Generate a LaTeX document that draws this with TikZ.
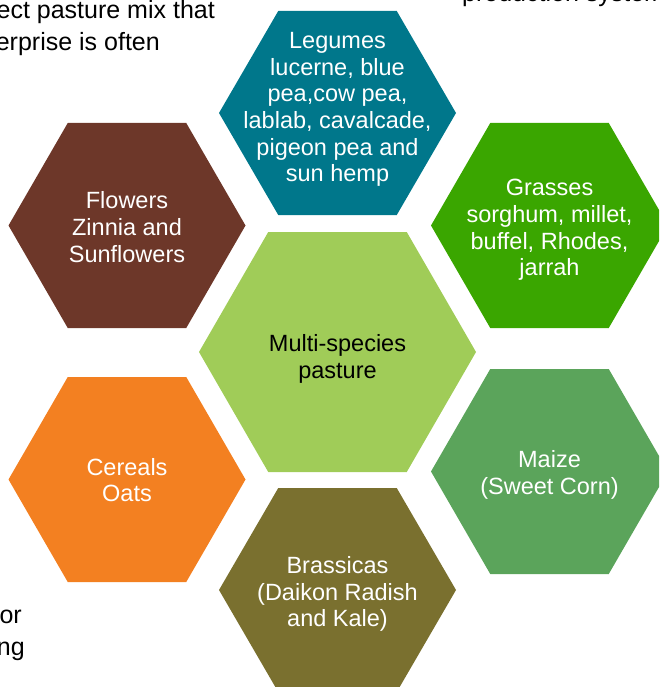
\documentclass[tikz,border=0pt]{standalone}
\usepackage{fontspec}
\setmainfont{Liberation Sans}
\definecolor{legcol}{HTML}{00778B}
\definecolor{flowcol}{HTML}{6D3729}
\definecolor{grasscol}{HTML}{3AA600}
\definecolor{centcol}{HTML}{A0CC58}
\definecolor{cercol}{HTML}{F38021}
\definecolor{maizecol}{HTML}{5BA45B}
\definecolor{brascol}{HTML}{7A702F}
\newcommand\hexa[4]{\fill[#1,shift={(#2)}] (-#3,0) -- (-#3/2,-#4) -- (#3/2,-#4) -- (#3,0) -- (#3/2,#4) -- (-#3/2,#4) -- cycle;}
\begin{document}
\begin{tikzpicture}[x=1pt,y=-1pt,
  hextext/.style={align=center,text=white,inner sep=0pt,font=\fontsize{23.5}{26.7}\selectfont},
  bgtext/.style={inner sep=0pt,text=black,font=\fontsize{25}{30}\selectfont}]
\useasboundingbox (0,0) rectangle (659,687);
\clip (0,0) rectangle (659,687);
% centres
\coordinate (cLeg) at (337.5,113);
\coordinate (cFlow) at (127,225.5);
\coordinate (cGrass) at (549.5,225.5);
\coordinate (cCent) at (337.5,352);
\coordinate (cCer) at (127,479.5);
\coordinate (cMaize) at (549.5,471.5);
\coordinate (cBras) at (337.5,590);
% hexagons
\hexa{legcol}{cLeg}{118.5}{102}
\hexa{flowcol}{cFlow}{118.5}{102.5}
\hexa{grasscol}{cGrass}{118.5}{102.5}
\hexa{centcol}{cCent}{138.5}{120}
\hexa{cercol}{cCer}{118.5}{102.5}
\hexa{maizecol}{cMaize}{118.5}{102.5}
\hexa{brascol}{cBras}{118.5}{102}
% labels
\node[hextext] (tLeg) at (337.5,109.5) {Legumes\\lucerne, blue\\pea,cow pea,\\lablab, cavalcade,\\pigeon pea and\\sun hemp};
\node[hextext] (tFlow) at (127,227) {Flowers\\Zinnia and\\Sunflowers};
\node[hextext] (tGrass) at (549.5,230) {Grasses\\sorghum, millet,\\buffel, Rhodes,\\jarrah};
\node[hextext,text=black] (tCent) at (337.5,359) {Multi-species\\pasture};
\node[hextext] (tCer) at (127,480) {Cereals\\Oats};
\node[hextext] (tMaize) at (549.5,475) {Maize\\(Sweet Corn)};
\node[hextext] (tBras) at (337.5,594) {Brassicas\\(Daikon Radish\\and Kale)};
% background text fragments
\node[bgtext,anchor=base east] (bg1) at (215,18.5) {ect pasture mix that};
\node[bgtext,anchor=base east] (bg2) at (160,51) {erprise is often};
\node[bgtext,anchor=base west] (bg3) at (462,2) {production system};
\node[bgtext,anchor=base east] (bg4) at (22,623) {or};
\node[bgtext,anchor=base east] (bg5) at (25,655) {ng};
\end{tikzpicture}
\end{document}
